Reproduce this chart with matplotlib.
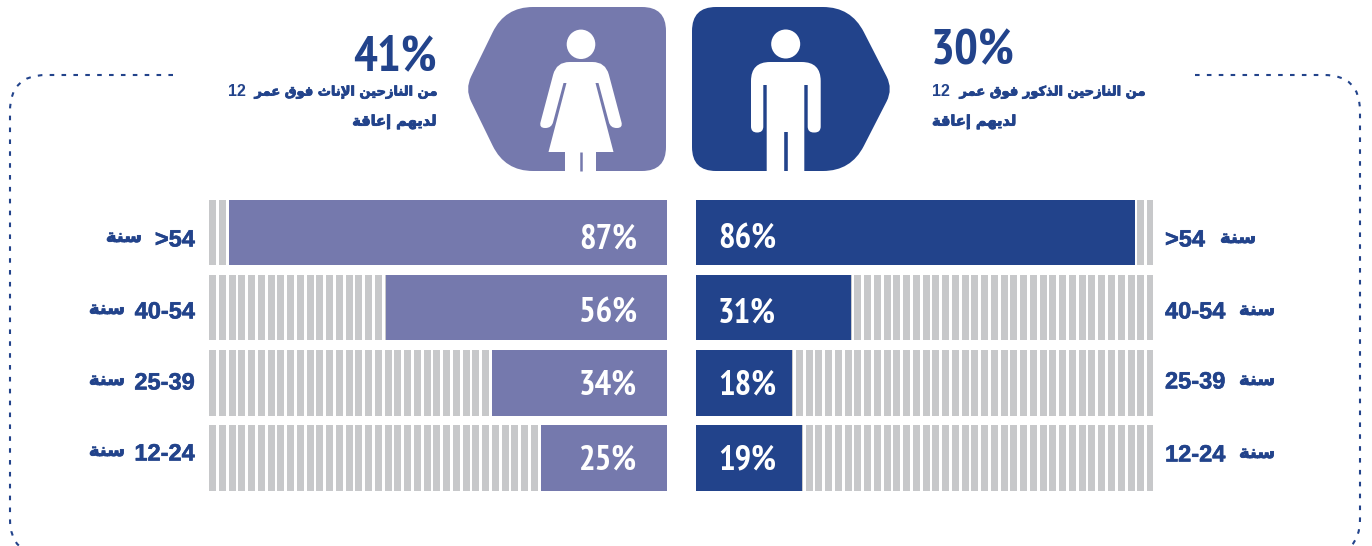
#!/usr/bin/env python3
# Disability among displaced people by sex and age (Arabic infographic)

import numpy as np
import matplotlib
matplotlib.use("Agg")
import matplotlib.pyplot as plt
import matplotlib.patheffects as pe
from matplotlib.patches import Circle, Ellipse, PathPatch
from matplotlib.path import Path

# --- DATA ---
AGE_LABELS_F = [">54", "40-54", "25-39", "12-24"]
AGE_LABELS_M = [">54", "40-54", "25-39", "12-24"]
AGE_WORD = "سنة"

# printed percentages
FEMALE_PCT = [87, 56, 34, 25]
MALE_PCT = [86, 31, 18, 19]
# bar lengths as drawn in the picture (they do not quite follow the labels)
FEMALE_LEN = [87.0, 55.9, 34.8, 25.0]
MALE_LEN = [87.3, 30.9, 19.1, 21.0]

FEMALE_TOTAL = "41%"
MALE_TOTAL = "30%"
FEMALE_LINE1 = "من النازحين الإناث فوق عمر"
MALE_LINE1 = "من النازحين الذكور فوق عمر"
LINE1_AGE = "12"
LINE2 = "لديهم إعاقة"

# --- CONFIGURATION ---
W, H = 1372, 546
FEMALE_COL = "#7579AD"
MALE_COL = "#22438B"
GRAY = "#C7C8CA"
NARROW = ["PT Sans Narrow", "Liberation Sans"]
SANS = ["Liberation Sans"]
AR = ["DejaVu Sans"]
PX_PER_PCT = 5.03
STRIPE_W = 7.0 / PX_PER_PCT
STRIPE_STEP = 9.75 / PX_PER_PCT
LABEL_NUDGE = [0.09, 0.08, 0.04, 0.03]  # row labels sit a little below centre
HEAVY = [pe.withStroke(linewidth=0.6, foreground=MALE_COL)]

# Arabic contextual forms: isolated, final, initial, medial
FORMS = {
    "ا": (0xFE8D, 0xFE8E), "إ": (0xFE87, 0xFE88), "د": (0xFEA9, 0xFEAA),
    "ذ": (0xFEAB, 0xFEAC), "ر": (0xFEAD, 0xFEAE), "ز": (0xFEAF, 0xFEB0),
    "و": (0xFEED, 0xFEEE), "ة": (0xFE93, 0xFE94),
    "ث": (0xFE99, 0xFE9A, 0xFE9B, 0xFE9C), "ح": (0xFEA1, 0xFEA2, 0xFEA3, 0xFEA4),
    "س": (0xFEB1, 0xFEB2, 0xFEB3, 0xFEB4), "ع": (0xFEC9, 0xFECA, 0xFECB, 0xFECC),
    "ف": (0xFED1, 0xFED2, 0xFED3, 0xFED4), "ق": (0xFED5, 0xFED6, 0xFED7, 0xFED8),
    "ك": (0xFED9, 0xFEDA, 0xFEDB, 0xFEDC), "ل": (0xFEDD, 0xFEDE, 0xFEDF, 0xFEE0),
    "م": (0xFEE1, 0xFEE2, 0xFEE3, 0xFEE4), "ن": (0xFEE5, 0xFEE6, 0xFEE7, 0xFEE8),
    "ه": (0xFEE9, 0xFEEA, 0xFEEB, 0xFEEC), "ي": (0xFEF1, 0xFEF2, 0xFEF3, 0xFEF4),
}


def shape(text):
    # matplotlib does no Arabic shaping, so pick the forms and reverse by hand
    out = []
    i = 0
    prev_joins = False
    while i < len(text):
        c = text[i]
        if c not in FORMS:
            out.append(c)
            prev_joins = False
            i += 1
            continue
        if c == "ل" and text[i + 1:i + 2] == "إ":
            out.append(chr(0xFEFA if prev_joins else 0xFEF9))
            prev_joins = False
            i += 2
            continue
        f = FORMS[c]
        next_joins = text[i + 1:i + 2] in FORMS and text[i + 1:i + 2] != ""
        if len(f) == 4 and next_joins:
            out.append(chr(f[3] if prev_joins else f[2]))
            prev_joins = True
        else:
            out.append(chr(f[1] if prev_joins else f[0]))
            prev_joins = False
        i += 1
    return "".join(reversed(out))


def rounded_poly(verts, radii):
    # polygon whose corners are rounded with quadratic curves
    verts = np.array(verts, dtype=float)
    n = len(verts)
    codes, pts = [], []
    for i in range(n):
        p, a, b = verts[i], verts[i - 1], verts[(i + 1) % n]
        r = radii[i]
        ua = (a - p) / np.linalg.norm(a - p)
        ub = (b - p) / np.linalg.norm(b - p)
        start, end = p + ua * r, p + ub * r
        codes += [Path.MOVETO if i == 0 else Path.LINETO, Path.CURVE3, Path.CURVE3]
        pts += [start, p, end]
    codes.append(Path.CLOSEPOLY)
    pts.append(pts[0])
    return Path(pts, codes)


def draw_bars(ax, lengths, pcts, color, label_x, ha):
    ax.set_ylim(3.5, -0.5)
    ax.axis("off")
    full = 458 / PX_PER_PCT
    for i in range(len(lengths)):
        # striped grey track, counted from the outer edge
        left = np.arange(full - STRIPE_W, 0, -STRIPE_STEP)
        ax.barh([i] * len(left), [STRIPE_W] * len(left), left=left, height=0.87,
                color=GRAY, linewidth=0)
    ax.barh(range(len(lengths)), lengths, height=0.87, color=color, linewidth=0, zorder=3)
    for i, p in enumerate(pcts):
        ax.text(label_x, i + LABEL_NUDGE[i], f"{p}%", color="white", fontsize=25, fontweight="bold",
                family=NARROW, ha=ha, va="center", zorder=4)


def px_axes(fig, x0, x1, y0, y1):
    return fig.add_axes([x0 / W, 1 - y1 / H, (x1 - x0) / W, (y1 - y0) / H])


fig = plt.figure(figsize=(W / 100, H / 100), dpi=100)

# bars
ax_f = px_axes(fig, 209, 667, 194.9, 495.6)
ax_f.set_xlim(458 / PX_PER_PCT, 0)
draw_bars(ax_f, FEMALE_LEN, FEMALE_PCT, FEMALE_COL, 30 / PX_PER_PCT, "right")
ax_m = px_axes(fig, 696, 1153, 194.9, 495.6)
ax_m.set_xlim(0, 457 / PX_PER_PCT)
draw_bars(ax_m, MALE_LEN, MALE_PCT, MALE_COL, 22 / PX_PER_PCT, "left")

# everything else sits on a full-figure axes in pixel coordinates
ax = fig.add_axes([0, 0, 1, 1])
ax.set_xlim(0, W)
ax.set_ylim(H, 0)
ax.axis("off")
ax.patch.set_alpha(0)

# dashed frame
for x_edge, x_in, x_start in [(10, 46, 173), (1360, 1324, 1195)]:
    frame = Path(
        [(x_start, 75), (x_in, 75), (x_edge, 75), (x_edge, 111), (x_edge, 519), (x_edge, 555), (x_in, 555)],
        [Path.MOVETO, Path.LINETO, Path.CURVE3, Path.CURVE3, Path.LINETO, Path.CURVE3, Path.CURVE3],
    )
    ax.add_patch(PathPatch(frame, fill=False, edgecolor=MALE_COL, linewidth=1.5,
                           linestyle=(0, (2.2, 3.5)), capstyle="butt"))

# icon backgrounds
ax.add_patch(PathPatch(rounded_poly([(666, 7), (666, 171), (505, 171), (465, 89), (505, 7)],
                                    [24, 24, 28, 14, 28]), fc=FEMALE_COL, lw=0))
ax.add_patch(PathPatch(rounded_poly([(692, 7), (851, 7), (893, 89), (851, 171), (692, 171)],
                                    [24, 28, 14, 28, 24]), fc=MALE_COL, lw=0))

# man
ax.add_patch(Circle((785.7, 44), 14.5, fc="white", lw=0))
ax.add_patch(PathPatch(rounded_poly(
    [(751, 132.5), (751, 62), (820.7, 62), (820.7, 132.5), (807.7, 132.5), (807.7, 85), (804.3, 85),
     (804.3, 171), (766.7, 171), (766.7, 85), (763.3, 85), (763.3, 132.5)],
    [6, 19, 19, 6, 6, 0.01, 0.01, 0.01, 0.01, 0.01, 0.01, 6]), fc="white", lw=0))
ax.plot([785.9, 785.9], [132, 171], color=MALE_COL, lw=2.6, solid_capstyle="butt")

# woman
ax.add_patch(Ellipse((581, 44.3), 28.6, 29.4, fc="white", lw=0))
ax.add_patch(PathPatch(rounded_poly(
    [(556.5, 62), (605.5, 62), (623, 128), (610.5, 128), (598.5, 83), (595.5, 83), (613.5, 152),
     (596, 152), (596, 171), (565, 171), (565, 152), (548.5, 152), (566.5, 83), (563.5, 83),
     (551.5, 128), (539, 128)],
    [13, 13, 6, 6, 0.01, 0.01, 0.01, 0.01, 0.01, 0.01, 0.01, 0.01, 0.01, 0.01, 6, 6]), fc="white", lw=0))
ax.plot([581, 581], [152, 171], color=FEMALE_COL, lw=1.8, solid_capstyle="butt")

# headline numbers
ax.text(437, 58, FEMALE_TOTAL, color=MALE_COL, fontsize=36, fontweight="bold", family=NARROW, ha="right", va="center")
ax.text(931, 52, MALE_TOTAL, color=MALE_COL, fontsize=36, fontweight="bold", family=NARROW, ha="left", va="center")

# header text
AR_HEAD = dict(color=MALE_COL, fontweight="bold", family=AR, va="center", path_effects=HEAVY)
NUM_HEAD = dict(color=MALE_COL, fontsize=11.5, fontweight="bold", family=SANS, va="center")
ax.text(437, 92, shape(FEMALE_LINE1), ha="right", fontsize=9.4, **AR_HEAD)
ax.text(228, 92, LINE1_AGE, ha="left", **NUM_HEAD)
ax.text(437, 122, shape(LINE2), ha="right", fontsize=10.5, **AR_HEAD)
ax.text(1145, 92, shape(MALE_LINE1), ha="right", fontsize=9.4, **AR_HEAD)
ax.text(932, 92, LINE1_AGE, ha="left", **NUM_HEAD)
ax.text(932, 122, shape(LINE2), ha="left", fontsize=10.5, **AR_HEAD)

# age labels
AGE_NUM = dict(color=MALE_COL, fontsize=17, fontweight="bold", family=SANS, va="center",
               path_effects=[pe.withStroke(linewidth=0.4, foreground=MALE_COL)])
AGE_AR = dict(color=MALE_COL, fontsize=13, fontweight="bold", family=AR, va="center", path_effects=HEAVY)
for lab, y, ar_x in zip(AGE_LABELS_F, [240, 312, 383, 454], [142, 125, 125, 125]):
    ax.text(195, y, lab, ha="right", **AGE_NUM)
    ax.text(ar_x, y - 3, shape(AGE_WORD), ha="right", **AGE_AR)
for lab, y, ar_x in zip(AGE_LABELS_M, [240, 312, 382, 455], [1220, 1239, 1239, 1239]):
    ax.text(1165, y, lab, ha="left", **AGE_NUM)
    ax.text(ar_x, y - 2, shape(AGE_WORD), ha="left", **AGE_AR)

fig.savefig("out.png", dpi=100, facecolor="white")
